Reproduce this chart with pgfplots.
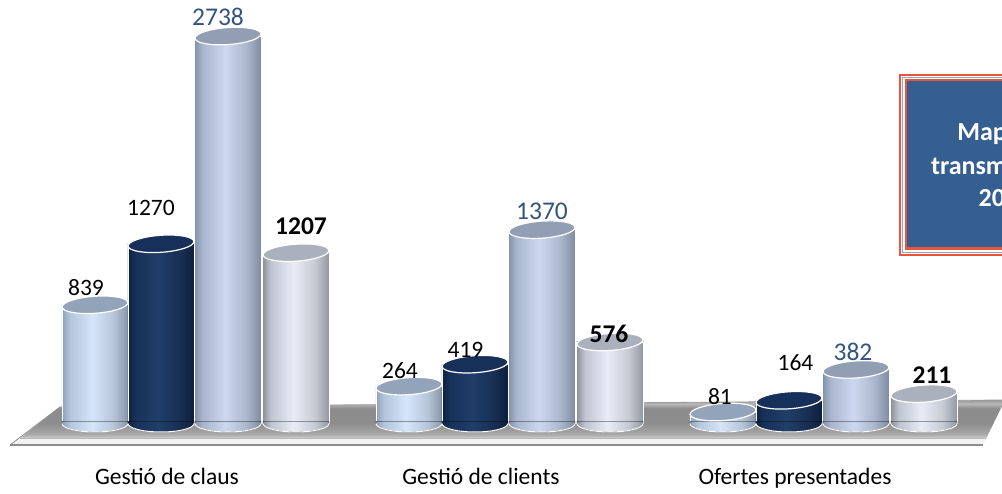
\documentclass[border=0pt]{standalone}
\usepackage{pgfplots}
\pgfplotsset{compat=1.18}
\usepackage{pgfplotstable}
\usepackage{fontspec}
\setmainfont{Carlito}

% ---------- colours ----------
\definecolor{lblblue}{HTML}{34547E}
\definecolor{boxblue}{HTML}{365F91}
\definecolor{boxred}{HTML}{EC533F}
\definecolor{boxgray}{HTML}{9AA6BC}
% series A (light blue)
\definecolor{aA}{HTML}{8F9FB6}\definecolor{aB}{HTML}{B3C5DC}\definecolor{aC}{HTML}{D5E5FA}
\definecolor{aD}{HTML}{B7C5D9}\definecolor{aE}{HTML}{8896AA}\definecolor{aT}{HTML}{93A3B9}
% series B (navy)
\definecolor{bA}{HTML}{0E2240}\definecolor{bB}{HTML}{17325A}\definecolor{bC}{HTML}{203E68}
\definecolor{bD}{HTML}{182F55}\definecolor{bE}{HTML}{0D1F3B}\definecolor{bT}{HTML}{16305A}
% series C (steel blue)
\definecolor{cA}{HTML}{8391A8}\definecolor{cB}{HTML}{A9B7CE}\definecolor{cC}{HTML}{CBD8EF}
\definecolor{cD}{HTML}{AAB6CB}\definecolor{cE}{HTML}{7D899E}\definecolor{cT}{HTML}{929EB3}
% series D (pale grey)
\definecolor{dA}{HTML}{8A8F99}\definecolor{dB}{HTML}{BFC5D0}\definecolor{dC}{HTML}{E7ECF7}
\definecolor{dD}{HTML}{C6CAD3}\definecolor{dE}{HTML}{9096A1}\definecolor{dT}{HTML}{ABB1BC}
% floor
\definecolor{fA}{HTML}{C6C6C6}\definecolor{fB}{HTML}{A6A6A6}\definecolor{fC}{HTML}{8D8D8D}
\definecolor{fD}{HTML}{8C8C8C}\definecolor{fE}{HTML}{B8B8B8}\definecolor{fF}{HTML}{9A9A9A}

% ---------- shadings ----------
\newcommand\cylshade[6]{%
  \pgfdeclarehorizontalshading{#1}{100bp}{color(0bp)=(#2); color(25bp)=(#2);
    color(31bp)=(#3); color(48bp)=(#4); color(64bp)=(#5); color(75bp)=(#6); color(100bp)=(#6)}}
\cylshade{cylA}{aA}{aB}{aC}{aD}{aE}
\cylshade{cylB}{bA}{bB}{bC}{bD}{bE}
\cylshade{cylC}{cA}{cB}{cC}{cD}{cE}
\cylshade{cylD}{dA}{dB}{dC}{dD}{dE}
\pgfdeclareverticalshading{floortop}{100bp}{color(0bp)=(fA); color(25bp)=(fA);
  color(31bp)=(fB); color(45bp)=(fC); color(64bp)=(fD); color(70bp)=(fE); color(75bp)=(fF); color(100bp)=(fF)}

% ---------- cylinder marks ----------
\newcommand\defcyl[3]{%
  \pgfdeclareplotmark{top#1}{%
    \pgfpathellipse{\pgfpointorigin}{\pgfqpoint{32.92pt}{2.3pt}}{\pgfqpoint{-0.59pt}{8.48pt}}%
    \pgfsetfillcolor{#3}\pgfsetstrokecolor{white}\pgfsetlinewidth{1.2pt}%
    \pgfusepath{fill,stroke}}%
  \pgfdeclareplotmark{bot#1}{%
    \shade[shading=#2] (-33pt,2pt) -- (-33pt,0pt) arc[start angle=180, end angle=360, x radius=33pt, y radius=8.5pt] -- (33pt,2pt) -- cycle;
    \draw[white, line width=1pt] (-33pt,0pt) arc[start angle=180, end angle=360, x radius=33pt, y radius=8.5pt];}%
}
\defcyl{A}{cylA}{aT}
\defcyl{B}{cylB}{bT}
\defcyl{C}{cylC}{cT}
\defcyl{D}{cylD}{dT}

\newcommand\lblfont{\fontsize{23.5}{28}\selectfont}
\newcommand\bigfont{\fontsize{25.5}{30}\selectfont}

% ---------- data ----------
\pgfplotstableread{
x v dx dy
0 839 -9 17.3
1 264 -9 15.6
2 81 -3 15
}\serA
\pgfplotstableread{
x v dx dy
0 1270 -10 36.3
1 419 -9.5 14.7
2 164 6.5 37.8
}\serB
\pgfplotstableread{
x v dx dy
0 2738 -10 19.6
1 1370 0 18.6
2 382 -3 17.4
}\serC
\pgfplotstableread{
x v dx dy
0 1207 5 26.7
1 576 -1 8.5
2 211 8 18.6
}\serD

\begin{document}
\begin{tikzpicture}
\useasboundingbox (0,0) rectangle (1002pt,493pt);
\clip (0,0) rectangle (1002pt,493pt);

% floor
\shade[shading=floortop] (60pt,86pt) -- (1005pt,93pt) -- (986.4pt,55pt) -- (20.3pt,55pt) -- cycle;
\draw[color=fF, line width=0.8pt] (60pt,86pt) -- (1005pt,93pt);
\fill[white!95!black] (20.3pt,55pt) -- (986.4pt,55pt) -- (983pt,48pt) -- (10pt,48pt) -- cycle;
\draw[color=fE, line width=0.8pt] (20.3pt,55pt) -- (986.4pt,55pt);
\draw[color=fC, line width=1.4pt] (10pt,48pt) -- (983pt,48pt);
\draw[color=fC, line width=0.8pt] (10pt,48pt) -- (60pt,86pt);

\begin{axis}[
  at={(0,0)}, anchor=south west,
  scale only axis, width=1002pt, height=493pt,
  xmin=-0.6242, xmax=2.5669, ymin=-491.2, ymax=2992.9,
  hide axis, clip=false,
]
% ---- series A
\pgfplotsinvokeforeach{0,1,2}{
\addplot[ybar, bar width=66pt, bar shift=0pt, draw=white, line width=0.8pt, shading=cylA,
  restrict expr to domain={\coordindex}{#1:#1}]
  table[x expr=\thisrow{x}-0.3217, y=v]{\serA};
}
\addplot[only marks, mark=botA] table[x expr=\thisrow{x}-0.3217, y expr=0]{\serA};
\addplot[only marks, mark=topA, point meta=explicit symbolic, nodes near coords,
  visualization depends on={\thisrow{dx}\as\dx}, visualization depends on={\thisrow{dy}\as\dy},
  nodes near coords style={anchor=center, xshift=\dx pt, yshift=\dy pt, font=\lblfont, text=black}]
  table[x expr=\thisrow{x}-0.3217, y=v, meta=v]{\serA};
% ---- series B
\pgfplotsinvokeforeach{0,1,2}{
\addplot[ybar, bar width=66pt, bar shift=0pt, draw=white, line width=0.8pt, shading=cylB,
  restrict expr to domain={\coordindex}{#1:#1}]
  table[x expr=\thisrow{x}-0.1115, y=v]{\serB};
}
\addplot[only marks, mark=botB] table[x expr=\thisrow{x}-0.1115, y expr=0]{\serB};
\addplot[only marks, mark=topB, point meta=explicit symbolic, nodes near coords,
  visualization depends on={\thisrow{dx}\as\dx}, visualization depends on={\thisrow{dy}\as\dy},
  nodes near coords style={anchor=center, xshift=\dx pt, yshift=\dy pt, font=\lblfont, text=black}]
  table[x expr=\thisrow{x}-0.1115, y=v, meta=v]{\serB};
% ---- series C
\pgfplotsinvokeforeach{0,1,2}{
\addplot[ybar, bar width=67pt, bar shift=0pt, draw=white, line width=0.8pt, shading=cylC,
  restrict expr to domain={\coordindex}{#1:#1}]
  table[x expr=\thisrow{x}+0.1019, y=v]{\serC};
}
\addplot[only marks, mark=botC] table[x expr=\thisrow{x}+0.1019, y expr=0]{\serC};
\addplot[only marks, mark=topC, point meta=explicit symbolic, nodes near coords,
  visualization depends on={\thisrow{dx}\as\dx}, visualization depends on={\thisrow{dy}\as\dy},
  nodes near coords style={anchor=center, xshift=\dx pt, yshift=\dy pt, font=\bigfont, text=lblblue}]
  table[x expr=\thisrow{x}+0.1019, y=v, meta=v]{\serC};
% ---- series D
\pgfplotsinvokeforeach{0,1,2}{
\addplot[ybar, bar width=67pt, bar shift=0pt, draw=white, line width=0.8pt, shading=cylD,
  restrict expr to domain={\coordindex}{#1:#1}]
  table[x expr=\thisrow{x}+0.3185, y=v]{\serD};
}
\addplot[only marks, mark=botD] table[x expr=\thisrow{x}+0.3185, y expr=0]{\serD};
\addplot[only marks, mark=topD, point meta=explicit symbolic, nodes near coords,
  visualization depends on={\thisrow{dx}\as\dx}, visualization depends on={\thisrow{dy}\as\dy},
  nodes near coords style={anchor=center, xshift=\dx pt, yshift=\dy pt, font=\bigfont\bfseries, text=black}]
  table[x expr=\thisrow{x}+0.3185, y=v, meta=v]{\serD};

% category labels (common baseline)
\node[font=\lblfont, anchor=base] at (axis cs:-0.0924,-427.6) {Gestió de claus};
\node[font=\lblfont, anchor=base] at (axis cs:0.9076,-427.6) {Gestió de clients};
\node[font=\lblfont, anchor=base] at (axis cs:1.9076,-427.6) {Ofertes presentades};
\end{axis}

% title box (cut by the right edge)
\fill[boxred] (899pt,237pt) rectangle (1010pt,419pt);
\fill[white] (901pt,239pt) rectangle (1010pt,417pt);
\draw[boxgray, line width=0.9pt] (902.8pt,241pt) rectangle (1012pt,415.7pt);
\fill[boxred] (904.7pt,243pt) rectangle (1010pt,414.3pt);
\fill[boxblue] (906.7pt,245.5pt) rectangle (1010pt,412.3pt);
\node[anchor=base, text=white, font=\fontsize{26}{33}\selectfont\bfseries, inner sep=0pt] at (1005pt,352pt) {Mapa de};
\node[anchor=base, text=white, font=\fontsize{26}{33}\selectfont\bfseries, inner sep=0pt] at (1005pt,318.5pt) {transmissions};
\node[anchor=base, text=white, font=\fontsize{26}{33}\selectfont\bfseries, inner sep=0pt] at (1005pt,286.3pt) {2014};
\end{tikzpicture}
\end{document}
